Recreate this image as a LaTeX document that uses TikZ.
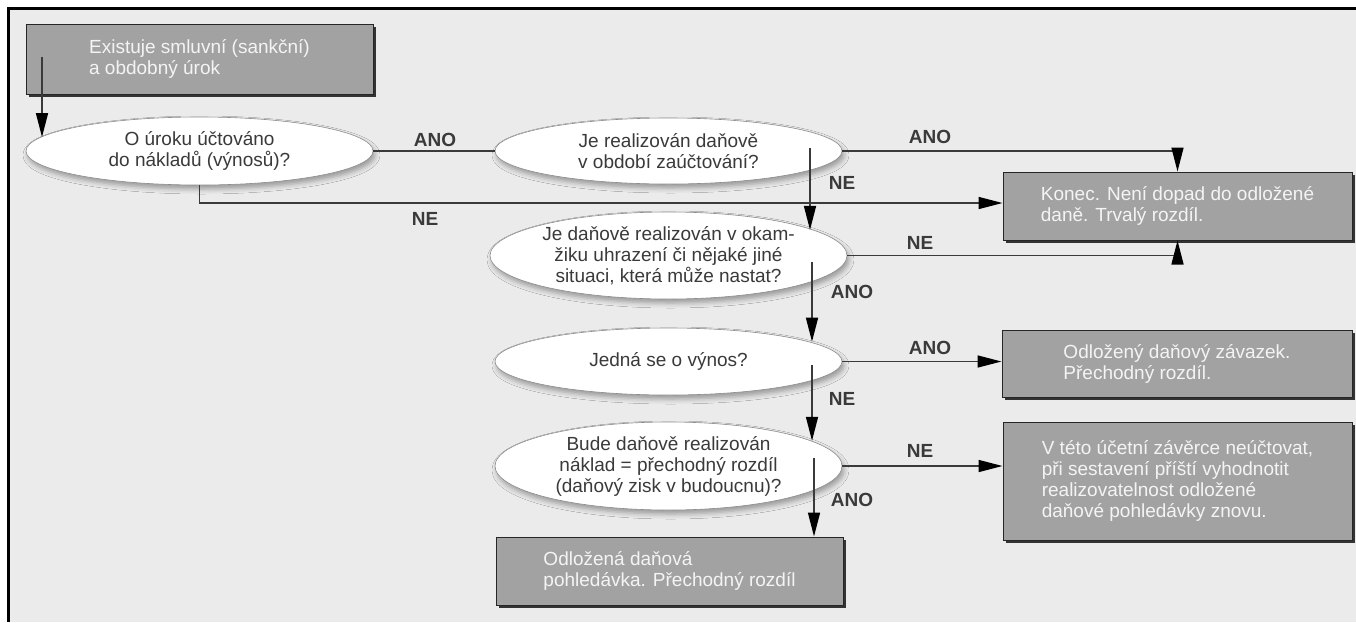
\documentclass[tikz,border=0pt]{standalone}
\usepackage{fontspec}
\setmainfont{Liberation Sans}
\usetikzlibrary{shapes.geometric,arrows.meta,shadows,shadows.blur}
\definecolor{bg}{HTML}{EBEBEB}
\definecolor{boxfill}{HTML}{A2A2A2}
\definecolor{linec}{HTML}{3A3A3A}
\definecolor{txt}{HTML}{3A3A3A}
\definecolor{boxtxt}{HTML}{F4F4F4}
\begin{document}
\begin{tikzpicture}[x=1pt,y=-1pt,
  font=\fontsize{19}{21}\selectfont,
  dec/.style={ellipse, draw=black!45, line width=0.6pt, fill=white, minimum width=347pt,
    inner sep=0pt, align=center, text=txt,
    blur shadow={shadow xshift=2pt, shadow yshift=-4pt, shadow blur radius=5pt, shadow opacity=35}},
  box/.style={rectangle, draw=black!85, line width=1pt, fill=boxfill, align=left,
    text=boxtxt, inner sep=0pt,
    drop shadow={shadow xshift=2.5pt, shadow yshift=-2.5pt, fill=black!80, opacity=1}},
  conn/.style={draw=linec, line width=1.5pt},
  arr/.style={conn, -{Triangle[length=24pt,width=12pt,color=black]}},
  lbl/.style={font=\fontsize{19}{21}\selectfont\bfseries, text=txt}
]
\useasboundingbox (0,0) rectangle (1356,622);
\fill[white] (0,0) rectangle (1356,622);
\fill[bg] (9,9) rectangle (1356,622);
\draw[black, line width=3pt] (8.5,622) -- (8.5,8.5) -- (1356,8.5);

\node[box, minimum width=347pt, minimum height=70pt] (start) at (199.5,59) {Existuje smluvní (sankční)\\a obdobný úrok};
\node[dec, minimum height=68pt] (e1) at (199.5,151) {O úroku účtováno\\do nákladů (výnosů)?};
\node[dec, minimum height=66pt] (e2) at (668.5,151) {Je realizován daňově\\v období zaúčtování?};
\node[dec, minimum height=87pt] (e3) at (668.5,255.5) {Je daňově realizován v okam-\\žiku uhrazení či nějaké jiné\\situaci, která může nastat?};
\node[dec, minimum height=67pt] (e4) at (668.5,361.5) {Jedná se o výnos?};
\node[dec, minimum height=88pt] (e5) at (668.5,466) {Bude daňově realizován\\náklad = přechodný rozdíl\\(daňový zisk v budoucnu)?};
\node[box, minimum width=349pt, minimum height=68pt] (konec) at (1177.5,206) {Konec. Není dopad do odložené\\daně. Trvalý rozdíl.};
\node[box, minimum width=350pt, minimum height=67pt] (zav) at (1177,363.5) {Odložený daňový závazek.\\Přechodný rozdíl.};
\node[box, minimum width=349pt, minimum height=118pt] (neuc) at (1177.5,481) {V této účetní závěrce neúčtovat,\\při sestavení příští vyhodnotit\\realizovatelnost odložené\\daňové pohledávky znovu.};
\node[box, minimum width=347pt, minimum height=68pt] (pohl) at (669.5,571) {Odložená daňová\\pohledávka. Přechodný rozdíl};

\coordinate (s0) at (42,57);
\coordinate (s2) at (810,148);
\coordinate (s3) at (812,262);
\coordinate (s4) at (812,365);
\coordinate (s5) at (814,458);

\draw[arr] (s0) -- (s0 |- e1.175);
\draw[conn] (e1.east) -- (e2.west);
\draw[arr] (e2.east) -| (konec.north);
\draw[arr] (e1.south) |- ([yshift=3pt]konec.west);
\draw[arr] (s2) -- (s2 |- e3.10);
\draw[arr] (e3.east) -| (konec.south);
\draw[arr] (s3) -- (s3 |- e4.8);
\draw[arr] (e4.east) -- (e4.east -| zav.west);
\draw[arr] (s4) -- (s4 |- e5.10);
\draw[arr] (e5.east) -- (e5.east -| neuc.west);
\draw[arr] (s5) -- (s5 |- pohl.north);

\node[lbl] (l1) at (435,140) {ANO};
\node[lbl] (l2) at (930,137) {ANO};
\node[lbl] (l3) at (425,219) {NE};
\node[lbl] (l4) at (842,183) {NE};
\node[lbl] (l5) at (920,243) {NE};
\node[lbl] (l6) at (852,292) {ANO};
\node[lbl] (l7) at (930,348) {ANO};
\node[lbl] (l8) at (842,399) {NE};
\node[lbl] (l9) at (920,451) {NE};
\node[lbl] (l10) at (852,500) {ANO};
\end{tikzpicture}
\end{document}
